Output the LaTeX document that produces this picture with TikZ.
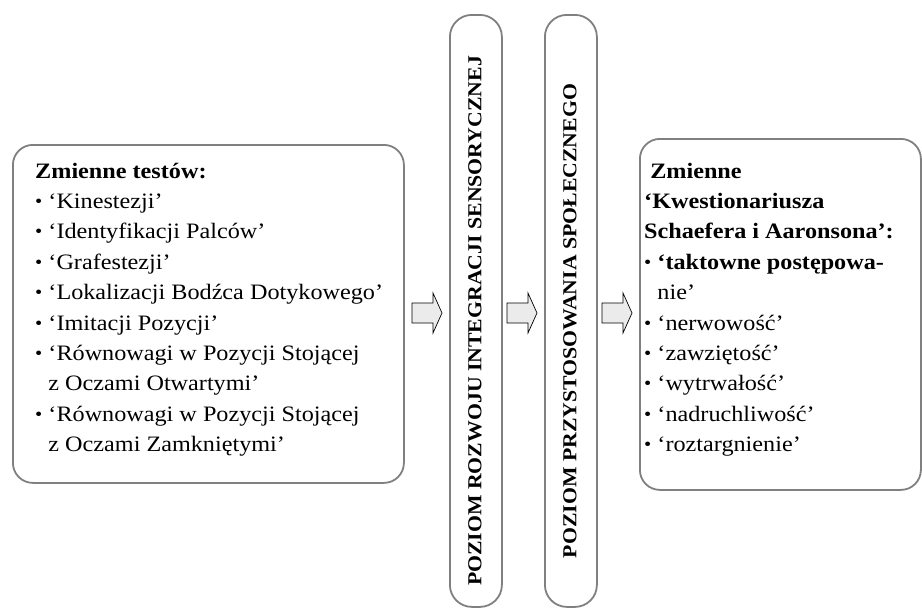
\documentclass[tikz,border=0pt]{standalone}
\usepackage{fontspec}
\usepackage{graphicx}
\setmainfont{Liberation Serif}[FakeStretch=1.1]
% list bullet followed by a space, and an equal blank indent
\newcommand{\itembul}{\raisebox{0.05em}{\scalebox{0.85}{\textbullet}}\ }
\newcommand{\itemgap}{\hphantom{\itembul}}
\begin{document}
\begin{tikzpicture}[x=1pt,y=-1pt,
  panel/.style={draw=black!50,line width=1.8pt,rounded corners=20pt},
  levelbox/.style={draw=black!50,line width=1.8pt,rounded corners=22pt},
  listtext/.style={anchor=north west,inner sep=0pt,align=left,
    font=\fontsize{22}{30.4}\selectfont},
  leveltext/.style={rotate=90,inner sep=0pt,font=\fontsize{19.8}{24}\selectfont\bfseries},
  blockarrow/.style={draw=black,line width=0.7pt,fill=black!8,line join=miter}]
\useasboundingbox (0,0) rectangle (922,608);

% boxes
\node[panel,minimum width=391pt,minimum height=338pt,anchor=north west] (tests) at (12,144) {};
\node[levelbox,minimum width=52pt,minimum height=592pt,anchor=north west] (sens) at (449,14) {};
\node[levelbox,minimum width=52pt,minimum height=592pt,anchor=north west] (soc) at (544,14) {};
\node[panel,minimum width=281pt,minimum height=351pt,anchor=north west] (quest) at (639,138) {};

% left list
\node[listtext] (testlist) at (35,156.7) {\strut\textbf{Zmienne testów:}\\
\itembul ‘Kinestezji’\\
\itembul ‘Identyfikacji Palców’\\
\itembul ‘Grafestezji’\\
\itembul ‘Lokalizacji Bodźca Dotykowego’\\
\itembul ‘Imitacji Pozycji’\\
\itembul ‘Równowagi w Pozycji Stojącej\\
\itemgap z Oczami Otwartymi’\\
\itembul ‘Równowagi w Pozycji Stojącej\\
\itemgap z Oczami Zamkniętymi’};

% vertical labels
\node[leveltext] (senstext) at (475,321) {POZIOM ROZWOJU INTEGRACJI SENSORYCZNEJ};
\node[leveltext] (soctext) at (570,321) {POZIOM PRZYSTOSOWANIA SPOŁECZNEGO};

% right list
\node[listtext] (questlist) at (644,156.7) {\strut\textbf{\ Zmienne}\\
\textbf{‘Kwestionariusza}\\
\textbf{Schaefera i Aaronsona’:}\\
\itembul \textbf{‘taktowne postępowa-}\\
\itemgap nie’\\
\itembul ‘nerwowość’\\
\itembul ‘zawziętość’\\
\itembul ‘wytrwałość’\\
\itembul ‘nadruchliwość’\\
\itembul ‘roztargnienie’};

% block arrows between the stages
\foreach \n/\x in {a1/412,a2/507,a3/602}{
  \coordinate (\n) at (\x,313);
  \draw[blockarrow] (\n) ++(0,-10) -- ++(21,0) -- ++(0,-10) -- ++(9,20)
    -- ++(-9,20) -- ++(0,-10) -- ++(-21,0) -- cycle;
}
\end{tikzpicture}
\end{document}
